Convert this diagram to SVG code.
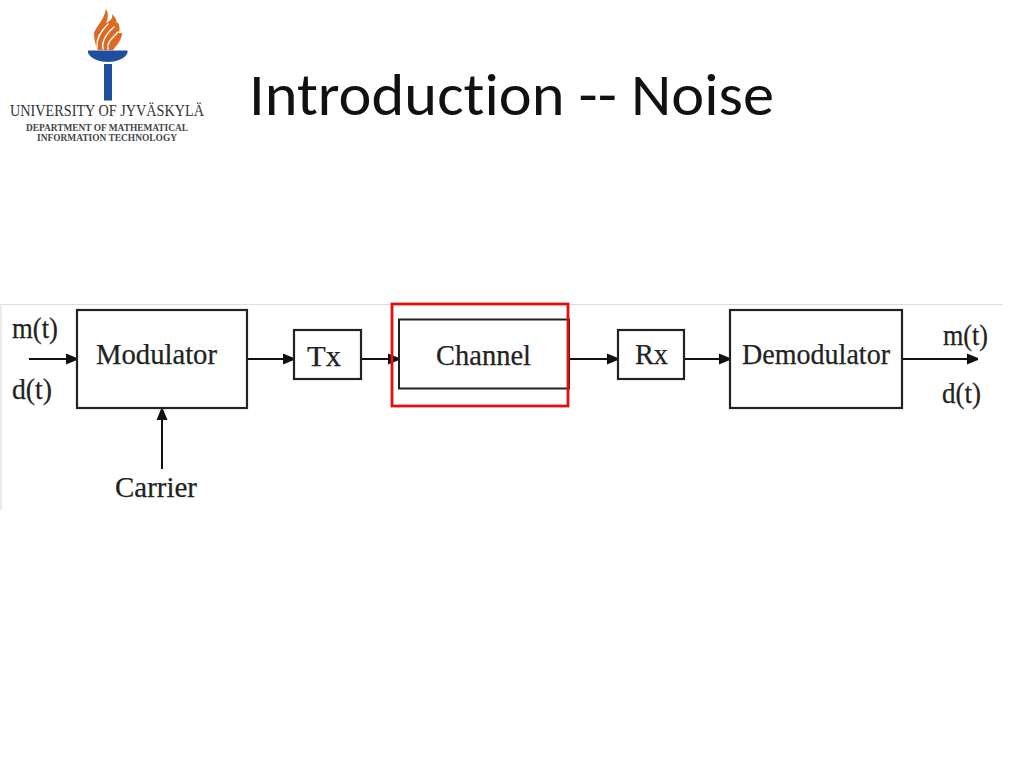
<svg xmlns="http://www.w3.org/2000/svg" width="1024" height="768" viewBox="0 0 1024 768">
<defs>
<marker id="arr" markerUnits="userSpaceOnUse" markerWidth="14" markerHeight="14" refX="12" refY="7" orient="auto"><path d="M1 1.500L12 6L12 8L1 12.500Z" fill="#111"/></marker>
</defs>
<style>
.box{fill:#fff;stroke:#222;stroke-width:2.200}
.lbl{font-family:"Liberation Serif",serif;fill:#222;font-size:30px;stroke:#222;stroke-width:.25}
.c{stroke:#111;stroke-width:2;fill:none;marker-end:url(#arr)}
.d{font-family:"Liberation Serif",serif;fill:#444;font-weight:bold;text-anchor:middle}
</style>
<rect width="1024" height="768" fill="#fff"/>
<path d="M1 510V304.500H1003" fill="none" stroke="#ddd" stroke-width="1.200"/>
<g id="logo">
<path d="M106 9C109 14 108 19 106 23C112 20 113 17 112 14C116 18 117 21 116.500 23C118 23 118 22 117 21C120 25 120 29 119 33C120 33 121 33 122 33C122 39 118 44 113 50H98C95 45 94 38 94 33C97 25 104 20 106 9Z" fill="#dd6a22"/>
<path d="M97 47C96 38 103 29 108 24M103 49C101 40 109 31 114 27M108 49C106 42 114 37 118 32" fill="none" stroke="#fff" stroke-width="1.400" stroke-linecap="round"/>
<path d="M88 50.500H127.500V53C125 59 115 62 108 62C100 62 91 59 88 53Z" fill="#1d4f9e"/>
<rect x="104" y="64" width="8" height="36.500" fill="#1d4f9e"/>
<text class="d" x="107" y="116" font-size="17" textLength="194" lengthAdjust="spacingAndGlyphs" style="font-weight:normal;fill:#333">UNIVERSITY OF JYVÄSKYLÄ</text>
<text class="d" x="107" y="130.500" font-size="10.500" textLength="162" lengthAdjust="spacingAndGlyphs">DEPARTMENT OF MATHEMATICAL</text>
<text class="d" x="107" y="140.500" font-size="10.500" textLength="140" lengthAdjust="spacingAndGlyphs">INFORMATION TECHNOLOGY</text>
</g>
<text id="title" x="249" y="115" font-family="Carlito,Lato,'Open Sans',sans-serif" font-size="60" fill="#111" textLength="525" lengthAdjust="spacingAndGlyphs" style="font-variant-ligatures:none">Introduction -- Noise</text>
<g id="connectors">
<path class="c" d="M29 359H77"/>
<path class="c" d="M162 469V409"/>
<path class="c" d="M248 359H294"/>
<path class="c" d="M362 359H399"/>
<path class="c" d="M569 359H618"/>
<path class="c" d="M684 359H730"/>
<path class="c" d="M903 359H978"/>
</g>
<g id="modulator"><rect class="box" x="77" y="310" width="170" height="98"/><text class="lbl" x="96" y="364" textLength="121" lengthAdjust="spacingAndGlyphs">Modulator</text></g>
<g id="tx"><rect class="box" x="294" y="330" width="67" height="49"/><text class="lbl" x="307" y="366" textLength="34" lengthAdjust="spacingAndGlyphs">Tx</text></g>
<g id="channel"><rect x="399" y="319.500" width="170" height="69" fill="none" stroke="#222" stroke-width="2"/><text class="lbl" x="436" y="365" textLength="95" lengthAdjust="spacingAndGlyphs">Channel</text></g>
<g id="rx"><rect class="box" x="618" y="330" width="66" height="49"/><text class="lbl" x="635" y="364" textLength="33" lengthAdjust="spacingAndGlyphs">Rx</text></g>
<g id="demodulator"><rect class="box" x="730" y="310" width="172" height="98"/><text class="lbl" x="742" y="364" textLength="148" lengthAdjust="spacingAndGlyphs">Demodulator</text></g>
<g id="highlight"><rect x="392" y="304" width="176" height="102" fill="none" stroke="#e01010" stroke-width="2.800"/></g>
<g id="labels">
<text class="lbl" x="12" y="338" textLength="46" lengthAdjust="spacingAndGlyphs">m(t)</text>
<text class="lbl" x="12" y="399" textLength="40" lengthAdjust="spacingAndGlyphs">d(t)</text>
<text class="lbl" x="115" y="497" textLength="82" lengthAdjust="spacingAndGlyphs">Carrier</text>
<text class="lbl" x="943" y="345" textLength="45" lengthAdjust="spacingAndGlyphs">m(t)</text>
<text class="lbl" x="942" y="403" textLength="39" lengthAdjust="spacingAndGlyphs">d(t)</text>
</g>
</svg>
